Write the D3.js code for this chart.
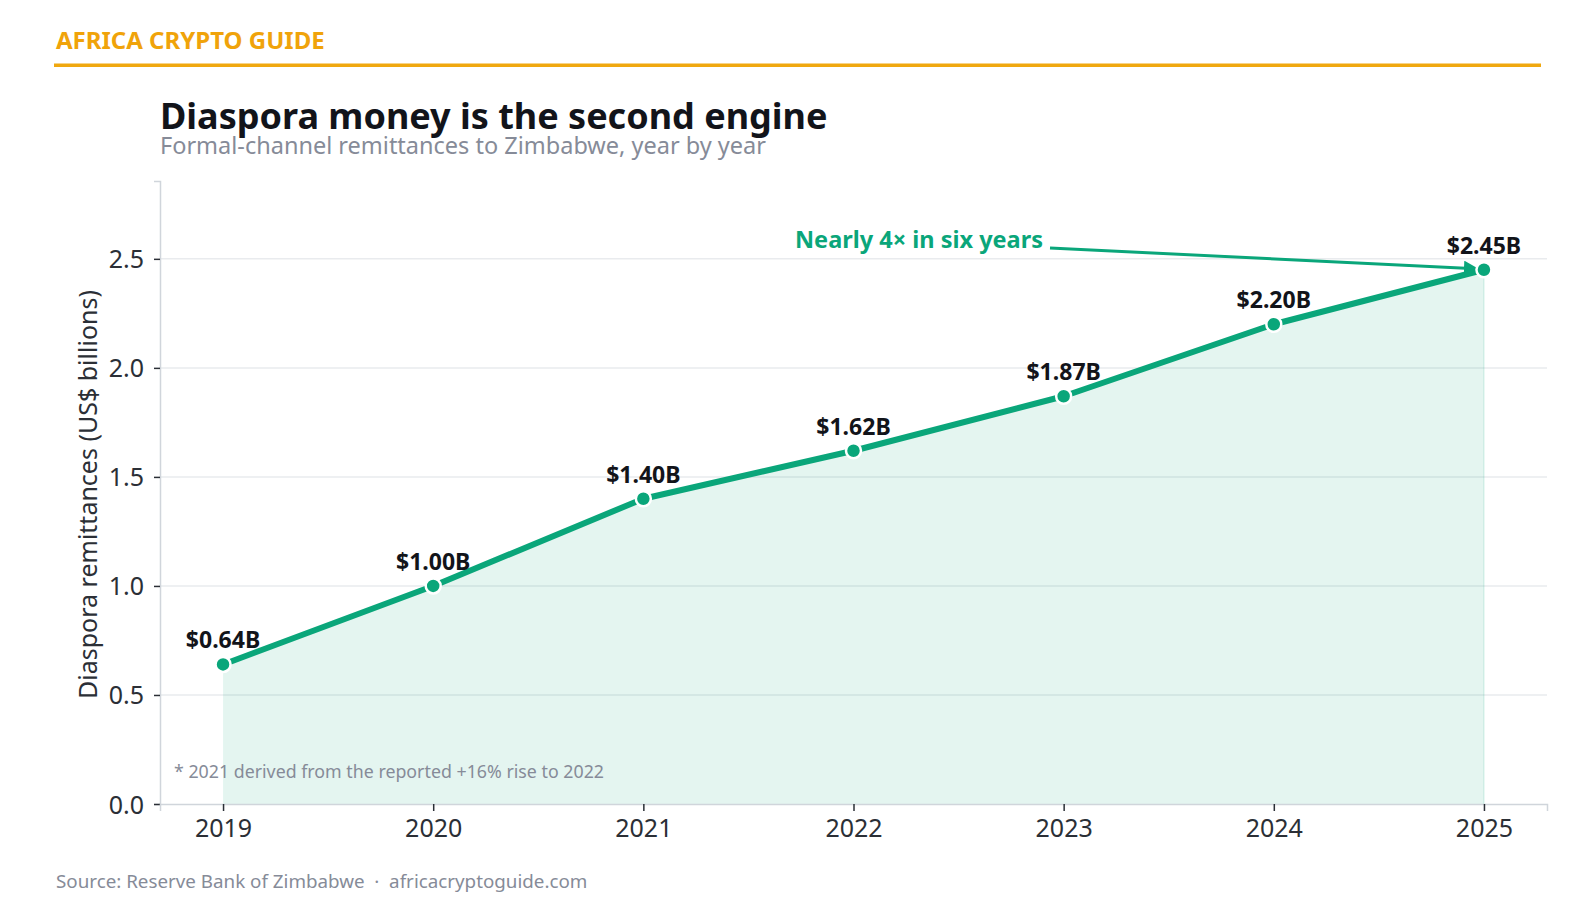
<!DOCTYPE html>
<html>
<head>
<meta charset="utf-8">
<script src="https://cdn.jsdelivr.net/npm/d3@7"></script>
<style>
  body { margin: 0; background: #fff; }
  svg { display: block; font-family: "Noto Sans", "Open Sans", sans-serif; }
</style>
</head>
<body>
<div id="container"></div>
<script>
const years = [2019, 2020, 2021, 2022, 2023, 2024, 2025];
const remittances = [0.64, 1.00, 1.40, 1.62, 1.87, 2.20, 2.45];
const valueLabels = ["$0.64B", "$1.00B", "$1.40B", "$1.62B", "$1.87B", "$2.20B", "$2.45B"];
const yTicks = [0, 0.5, 1.0, 1.5, 2.0, 2.5];

const w = 1595;
const h = 913;
const green = "#0aa67a";

const svg = d3.select("#container")
              .append("svg")
              .attr("width", w)
              .attr("height", h);

const plotLeft = 160, plotRight = 1547, plotTop = 181, plotBottom = 804;

const x = d3.scaleLinear().domain([2018.7, 2025.3]).range([plotLeft, plotRight]);
const y = d3.scaleLinear().domain([0, 2.857]).range([plotBottom, plotTop]);

const data = years.map((yr, i) => ({ year: yr, value: remittances[i], label: valueLabels[i] }));

// brand header
svg.append("text")
   .attr("x", 56).attr("y", 49)
   .attr("fill", "#f0a30a")
   .style("font-size", "24px").style("font-weight", 700)
   .text("AFRICA CRYPTO GUIDE");

svg.append("rect")
   .attr("x", 54).attr("y", 63.5)
   .attr("width", 1487).attr("height", 3.5)
   .attr("fill", "#f0a80f");

svg.append("text")
   .attr("x", 160).attr("y", 129)
   .attr("fill", "#12141a")
   .style("font-size", "36px").style("font-weight", 700)
   .text("Diaspora money is the second engine");

svg.append("text")
   .attr("x", 160).attr("y", 154)
   .attr("fill", "#868b98")
   .style("font-size", "23.5px")
   .text("Formal-channel remittances to Zimbabwe, year by year");

// gridlines
svg.append("g")
   .selectAll("line")
   .data(yTicks.filter(d => d > 0))
   .enter()
   .append("line")
   .attr("x1", plotLeft).attr("x2", plotRight)
   .attr("y1", d => y(d)).attr("y2", d => y(d))
   .attr("stroke", "#e9ebee")
   .attr("stroke-width", 1.5);

// area
const area = d3.area()
               .x(d => x(d.year))
               .y0(y(0))
               .y1(d => y(d.value));

svg.append("path")
   .datum(data)
   .attr("d", area)
   .attr("fill", green)
   .attr("fill-opacity", 0.11);

svg.append("line")
   .attr("x1", x(2025)).attr("x2", x(2025))
   .attr("y1", y(0)).attr("y2", y(2.45))
   .attr("stroke", green).attr("stroke-opacity", 0.12).attr("stroke-width", 1.5);

// axes
const yAxis = svg.append("g")
   .attr("transform", `translate(${plotLeft},0)`)
   .call(d3.axisLeft(y).tickValues(yTicks).tickFormat(d3.format(".1f")).tickSize(6).tickPadding(10));

const xAxis = svg.append("g")
   .attr("transform", `translate(0,${plotBottom})`)
   .call(d3.axisBottom(x).tickValues(years).tickFormat(d3.format("d")).tickSize(7).tickPadding(8));

[yAxis, xAxis].forEach(g => {
  g.select(".domain").attr("stroke", "#d0d5db").attr("stroke-width", 1.5);
  g.selectAll(".tick line").attr("stroke", "#2b2f36").attr("stroke-width", 1.5);
  g.selectAll(".tick text").attr("fill", "#2b2f36").style("font-size", "25px").style("font-family", "'Noto Sans', sans-serif");
});
yAxis.selectAll(".tick text").attr("dy", "0.36em");
xAxis.selectAll(".tick text").attr("dy", "0.71em");

svg.append("text")
   .attr("transform", `translate(97,${(plotTop + plotBottom) / 2 + 2}) rotate(-90)`)
   .attr("text-anchor", "middle")
   .attr("fill", "#2b2f36")
   .style("font-size", "25px")
   .text("Diaspora remittances (US$ billions)");

// annotation arrow
const arrowEnd = [x(2025) - 8, y(2.45) - 1];
svg.append("defs").append("marker")
   .attr("id", "arrowhead")
   .attr("viewBox", "0 0 10 10")
   .attr("refX", 8).attr("refY", 5)
   .attr("markerWidth", 5).attr("markerHeight", 5)
   .attr("orient", "auto")
   .append("path")
   .attr("d", "M0,0 L10,5 L0,10 z")
   .attr("fill", green);

svg.append("line")
   .attr("x1", 1050).attr("y1", 248)
   .attr("x2", arrowEnd[0]).attr("y2", arrowEnd[1])
   .attr("stroke", green)
   .attr("stroke-width", 3)
   .attr("marker-end", "url(#arrowhead)");

svg.append("text")
   .attr("x", 1043).attr("y", 248)
   .attr("text-anchor", "end")
   .attr("fill", green)
   .style("font-size", "23.5px").style("font-weight", 700)
   .text("Nearly 4× in six years");

// line
const line = d3.line()
               .x(d => x(d.year))
               .y(d => y(d.value));

svg.append("path")
   .datum(data)
   .attr("d", line)
   .attr("fill", "none")
   .attr("stroke", green)
   .attr("stroke-width", 6)
   .attr("stroke-linejoin", "round");

svg.append("g")
   .selectAll("circle")
   .data(data)
   .enter()
   .append("circle")
   .attr("cx", d => x(d.year))
   .attr("cy", d => y(d.value))
   .attr("r", 7.5)
   .attr("fill", green)
   .attr("stroke", "#fff")
   .attr("stroke-width", 2.5);

svg.append("g")
   .selectAll("text")
   .data(data)
   .enter()
   .append("text")
   .attr("x", d => x(d.year))
   .attr("y", d => y(d.value) - 16)
   .attr("text-anchor", "middle")
   .attr("fill", "#12141a")
   .style("font-size", "23px").style("font-weight", 700)
   .text(d => d.label);

// footnote and source
svg.append("text")
   .attr("x", 174).attr("y", 778)
   .attr("fill", "#868b98")
   .style("font-size", "17.8px")
   .text("* 2021 derived from the reported +16% rise to 2022");

svg.append("text")
   .attr("x", 56).attr("y", 888)
   .attr("fill", "#868b98")
   .style("font-size", "18.8px")
   .attr("xml:space", "preserve")
   .text("Source: Reserve Bank of Zimbabwe  ·  africacryptoguide.com");
</script>
</body>
</html>
